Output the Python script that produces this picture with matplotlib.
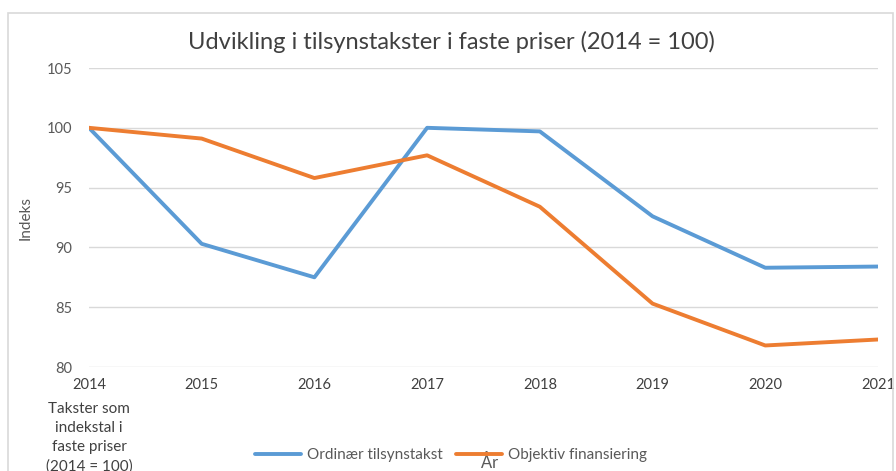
import matplotlib.pyplot as plt
from matplotlib.patches import Rectangle

# Data
years = [2014, 2015, 2016, 2017, 2018, 2019, 2020, 2021]
ordinaer = [100.0, 90.3, 87.5, 100.0, 99.7, 92.6, 88.3, 88.4]
objektiv = [100.0, 99.1, 95.8, 97.7, 93.4, 85.3, 81.8, 82.3]
yticks = [80, 85, 90, 95, 100, 105]

plt.rcParams['font.family'] = ['Lato', 'DejaVu Sans']
txt = '#595959'

fig = plt.figure(figsize=(8.96, 4.71), dpi=100)
ax = fig.add_axes([0.0993, 0.2208, 0.8806, 0.6348])

# outer chart frame
fig.patches.append(Rectangle((8 / 896, -0.1), 885 / 896, 1.1 - 13 / 471,
                             transform=fig.transFigure, fill=False,
                             edgecolor='#d9d9d9', linewidth=1.2))

ax.plot(years, ordinaer, color='#5B9BD5', linewidth=2.8, label='Ordinær tilsynstakst',
        solid_capstyle='round', zorder=3)
ax.plot(years, objektiv, color='#ED7D31', linewidth=2.8, label='Objektiv finansiering',
        solid_capstyle='round', zorder=3)

ax.set_xlim(2014, 2021)
ax.set_ylim(80, 105)
ax.set_yticks(yticks)
ax.set_xticks(years)
ax.grid(axis='y', color='#d9d9d9', linewidth=1)
ax.grid(axis='x', visible=False)
for s in ax.spines.values():
    s.set_visible(False)
ax.tick_params(length=0, labelsize=10.5, colors=txt, pad=12)
ax.tick_params(axis='x', pad=8)
for lbl in ax.get_xticklabels():
    lbl.set_color('#404040')

ax.set_ylabel('Indeks', fontsize=11, color=txt, labelpad=10)
fig.text(451 / 896, 1 - 42 / 471, 'Udvikling i tilsynstakster i faste priser (2014 = 100)',
         ha='center', va='center', fontsize=17, color='#404040')

fig.text(89 / 896, 1 - 402 / 471, 'Takster som\nindekstal i\nfaste priser\n(2014 = 100)',
         ha='center', va='top', fontsize=11, color='#404040', linespacing=1.45)

fig.legend(loc='center', bbox_to_anchor=(451 / 896, 1 - 455 / 471), ncol=2, frameon=False,
           fontsize=11, labelcolor=txt, handlelength=3.0, columnspacing=0.9,
           handletextpad=0.4)
fig.text(490 / 896, 1 - 462 / 471, 'År', ha='center', va='center', fontsize=12,
         color=txt)

fig.savefig('out.png', dpi=100)
